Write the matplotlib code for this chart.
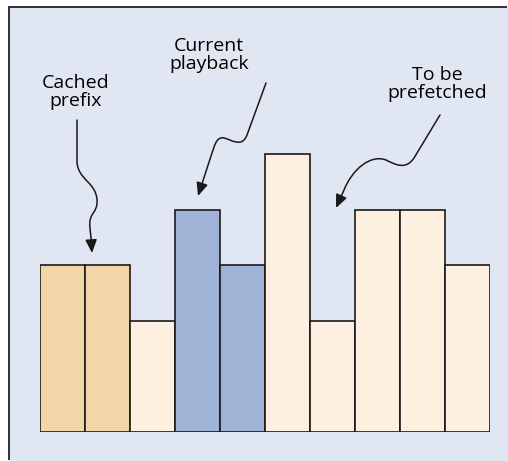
#!/usr/bin/env python3
"""Prefix caching / prefetching diagram"""
import matplotlib
matplotlib.use('Agg')
import matplotlib.pyplot as plt
from matplotlib.patches import Rectangle, FancyArrowPatch
from matplotlib.lines import Line2D
from matplotlib.path import Path

# segment sizes, left to right
segments = list(range(10))
sizes = [3, 3, 2, 4, 3, 5, 2, 4, 4, 3]
# role of each segment
roles = ['cached', 'cached', 'future', 'playing', 'playing',
         'future', 'future', 'future', 'future', 'future']
role_colors = {'cached': '#F2D6A8', 'playing': '#9FB3D6', 'future': '#FEF0E0'}

labels = ['Cached\nprefix', 'Current\nplayback', 'To be\nprefetched']

W, H = 508, 461
BG = '#E1E7F2'
plt.rcParams['font.family'] = ['Open Sans', 'DejaVu Sans']

# the whole figure is the panel colour, white margins on the left and top
fig = plt.figure(figsize=(W / 100, H / 100), dpi=100)
fig.patch.set_facecolor(BG)
fig.add_artist(Rectangle((0, 0), 9 / W, 1, transform=fig.transFigure,
                         facecolor='white', edgecolor='none', zorder=-5))
fig.add_artist(Rectangle((0, 1 - 7.5 / H), 1, 7.5 / H, transform=fig.transFigure,
                         facecolor='white', edgecolor='none', zorder=-5))
# panel edge, left and top only
fig.add_artist(Line2D([9 / W, 9 / W, 1 - 1 / W], [1 / H, 1 - 7.5 / H, 1 - 7.5 / H],
                      transform=fig.transFigure, color='#222222', linewidth=1.3,
                      solid_joinstyle='miter', solid_capstyle='butt'))

# overlay in pixel coords (y down) for labels and arrows
ov = fig.add_axes([0, 0, 1, 1])
ov.set_xlim(0, W)
ov.set_ylim(H, 0)
ov.axis('off')

# bar axes
base_px = 431.7
unit_px = 55.5
ymax = 7
ax = fig.add_axes([40 / W, (H - base_px) / H, 450 / W, ymax * unit_px / H])
ax.set_xlim(-0.5, 9.5)
ax.set_ylim(0, ymax)
ax.axis('off')
ax.bar(segments, sizes, width=1.0, color=[role_colors[r] for r in roles],
       edgecolor='#1a1a1a', linewidth=1.2, zorder=2)

# labels
txt = dict(ha='center', va='center', fontsize=14, color='black',
           linespacing=1.0, zorder=5)
ov.text(76, 92, labels[0], **txt)
ov.text(209, 55, labels[1], **txt)
ov.text(437, 84, labels[2], **txt)

M, L, C = Path.MOVETO, Path.LINETO, Path.CURVE4
squiggles = [
    [((77, 120), M), ((77, 162), L),
     ((78, 180), C), ((96, 182), C), ((97, 200), C),
     ((98, 214), C), ((88, 212), C), ((90, 228), C),
     ((91, 238), L), ((92, 253), L)],
    [((266, 83), M), ((247, 135), L),
     ((242, 148), C), ((232, 140), C), ((224, 138), C),
     ((216, 136), C), ((214, 148), C), ((212, 153), C),
     ((198, 196), L)],
    [((440, 115), M), ((414, 158), L),
     ((406, 170), C), ((396, 165), C), ((386, 160), C),
     ((370, 154), C), ((352, 170), C), ((344, 190), C),
     ((336, 208), L)],
]
for pts in squiggles:
    path = Path([p for p, _ in pts], [c for _, c in pts])
    ov.add_patch(FancyArrowPatch(path=path,
                                 arrowstyle='-|>,head_length=8,head_width=3.5',
                                 color='#1a1a1a', linewidth=1.1, zorder=6))

plt.savefig('out.png', dpi=100, facecolor=BG)
